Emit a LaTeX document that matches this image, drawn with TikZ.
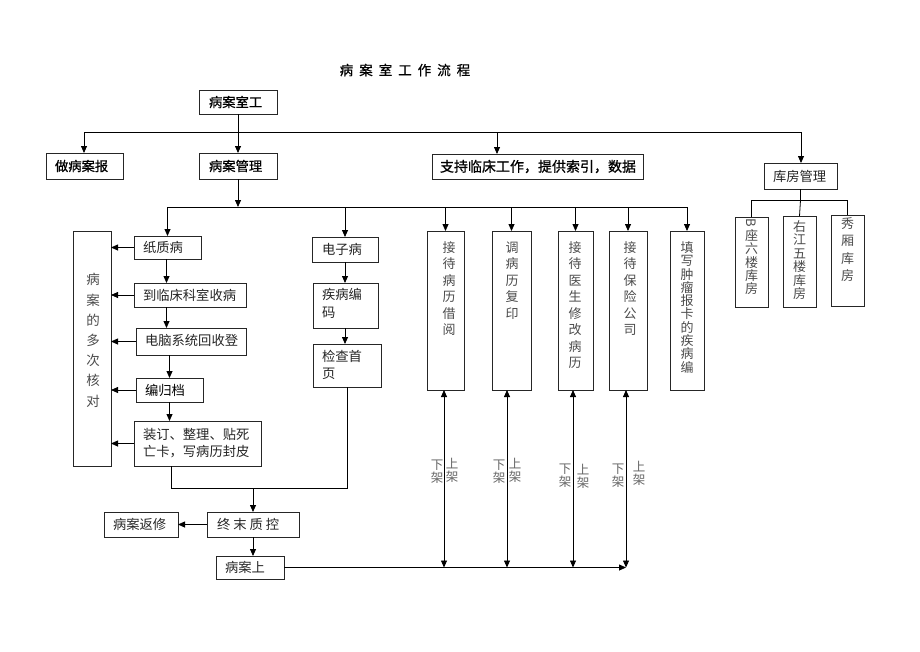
\documentclass[tikz,border=0pt]{standalone}
\usepackage{fontspec}
\setmainfont{Noto Sans CJK SC}
\newfontfamily\cjkh{Noto Sans CJK SC}[FakeBold=0.7]
\usepackage{graphicx}
\usetikzlibrary{arrows.meta}
\tikzset{
 bx/.style={draw=black!85, line width=0.9pt, inner sep=0pt, outer sep=0pt, rectangle},
 tx/.style={inner sep=0pt, outer sep=0pt, text=black!85, anchor=west, font=\fontsize{13.3}{17}\selectfont},
 tb/.style={tx, text=black, font=\cjkh\fontsize{13.3}{17}\selectfont},
 vt/.style={inner sep=0pt, outer sep=0pt, align=center, anchor=north, text=black!70, font=\fontsize{13}{16.5}\selectfont},
 ml/.style={inner sep=0pt, outer sep=0pt, align=left, anchor=north west, text=black!85},
 ln/.style={line width=0.8pt, draw=black},
 ar/.style={ln, -{Triangle[length=7pt,width=6pt]}},
 dar/.style={ln, {Triangle[length=7pt,width=6pt]}-{Triangle[length=7pt,width=6pt]}},
}
\newcommand\bx[5]{\node[bx, minimum width={#4pt-#2pt}, minimum height={#5pt-#3pt}] (#1) at ({(#2+#4)/2},{(#3+#5)/2}) {};}
\begin{document}
\begin{tikzpicture}[x=1pt,y=-1pt]
\path[use as bounding box] (0,0) rectangle (920,651);
\fill[white] (0,0) rectangle (920,651);

% title
\node[tb, anchor=center, font=\cjkh\fontsize{13.5}{15}\selectfont] (title) at (405,70)
  {病\hspace{6pt}案\hspace{6pt}室\hspace{6pt}工\hspace{6pt}作\hspace{6pt}流\hspace{6pt}程};

% top level
\bx{A}{199}{90}{277}{114}
\node[tb] (tA) at (209,102) {病案室工};
\bx{B1}{46}{153}{123}{179}
\node[tb] (tB1) at (55,166) {做病案报};
\bx{B2}{199}{153}{277}{179}
\node[tb] (tB2) at (209,166) {病案管理};
\bx{B3}{432}{154}{643}{179}
\node[tb, font=\cjkh\fontsize{14}{17}\selectfont] (tB3) at (440,166.5) {支持临床工作，提供索引，数据};
\bx{B4}{764}{163}{837}{189}
\node[tx] (tB4) at (773,176) {库房管理};

\coordinate (j1) at (84,132);
\coordinate (j3) at (497,132);
\coordinate (j4) at (801,132);
\draw[ln] (j1) -- (j4);
\draw[ar] (A.south) -- (B2.north);
\draw[ar] (j1) -- (j1 |- B1.north);
\draw[ar] (j3) -- (j3 |- B3.north);
\draw[ar] (j4) -- (j4 |- B4.north);

% storage
\bx{S1}{735}{217}{768}{307}
\bx{S2}{783}{216}{816}{307}
\bx{S3}{831}{215}{864}{306}
\node[vt, font=\fontsize{13}{13.2}\selectfont] (tS1) at (751.5,218.5) {\rotatebox[origin=c]{-90}{B}\\座\\六\\楼\\库\\房};
\node[vt, font=\fontsize{13}{13.4}\selectfont] (tS2) at (799.5,220.5) {右\\江\\五\\楼\\库\\房};
\node[vt, font=\fontsize{13}{17.5}\selectfont] (tS3) at (847.5,217.5) {秀\\厢\\库\\房};
\coordinate (s0) at (800.5,200);
\coordinate (sL) at (751.5,200);
\coordinate (sR) at (847.5,200);
\draw[ln] (B4.south) -- (s0);
\draw[ln] (sL) -- (sR);
\draw[ln] (sL) -- (S1.north);
\draw[ln] (s0) -- (S2.north);
\draw[ln] (sR) -- (S3.north);

% management line
\coordinate (mL) at (167.5,207);
\coordinate (mR) at (687,207);
\draw[ln] (mL) -- (mR);
\draw[ar] (B2.south) -- (B2.south |- mL);

% columns
\bx{C1}{427}{231}{464}{390}
\bx{C2}{492}{231}{531}{390}
\bx{C3}{558}{231}{593}{390}
\bx{C4}{609}{231}{647}{390}
\bx{C5}{670}{231}{704}{390}
\node[vt] (tC1) at (449,241.5) {接\\待\\病\\历\\借\\阅};
\node[vt] (tC2) at (512,241.5) {调\\病\\历\\复\\印};
\node[vt] (tC3) at (575,241.5) {接\\待\\医\\生\\修\\改\\病\\历};
\node[vt] (tC4) at (630,241.5) {接\\待\\保\\险\\公\\司};
\node[vt, font=\fontsize{13}{13.3}\selectfont] (tC5) at (687,241.5) {填\\写\\肿\\瘤\\报\\卡\\的\\疾\\病\\编};
\foreach \c in {C1,C2,C3,C4,C5} {\draw[ar] (\c.north |- mL) -- (\c.north);}

% paper records
\bx{K}{73}{231}{111}{466}
\node[vt, font=\fontsize{13.5}{20.2}\selectfont] (tK) at (93,273.5) {病\\案\\的\\多\\次\\核\\对};
\bx{P1}{134}{236}{201}{259}
\node[tx] (tP1) at (143,247.5) {纸质病};
\bx{P2}{134}{283}{246}{307}
\node[tx] (tP2) at (143,295) {到临床科室收病};
\bx{P3}{136}{328}{246}{355}
\node[tx] (tP3) at (145,340) {电脑系统回收登};
\bx{P4}{136}{378}{203}{402}
\node[tx, text=black] (tP4) at (145,390) {编归档};
\bx{P5}{134}{421}{261}{466}
\node[ml, font=\fontsize{13.3}{17}\selectfont] (tP5) at (143,428) {装订、整理、贴死\\亡卡，写病历封皮};
\draw[ar] (mL) -- (P1.north);
\coordinate (colx) at (166.5,0);
\draw[ar] (colx |- P1.south) -- (colx |- P2.north);
\draw[ar] (colx |- P2.south) -- (colx |- P3.north);
\draw[ar] (P4.north |- P3.south) -- (P4.north);
\draw[ar] (P4.south) -- (P4.south |- P5.north);
\foreach \p in {P1,P2,P3,P4,P5} {\draw[ar] (\p.west) -- (\p.west -| K.east);}

% electronic records
\bx{E1}{312}{237}{378}{262}
\node[tx] (tE1) at (322,249.5) {电子病};
\bx{E2}{313}{283}{378}{328}
\node[ml, font=\fontsize{13.3}{18}\selectfont] (tE2) at (322,288.5) {疾病编\\码};
\bx{E3}{313}{344}{381}{387}
\node[ml, font=\fontsize{13.3}{17}\selectfont] (tE3) at (322,350.5) {检查首\\页};
\draw[ar] (E1.north |- mL) -- (E1.north);
\draw[ar] (E1.south) -- (E1.south |- E2.north);
\draw[ar] (E1.south |- E2.south) -- (E1.south |- E3.north);

% merge and quality control
\coordinate (q1) at (171,488);
\coordinate (q2) at (347,488);
\draw[ln] (P5.south -| q1) -- (q1) -- (q2) -- (E3.south -| q2);
\bx{T}{207}{512}{299}{537}
\node[tx] (tT) at (217,524.5) {终\hspace{3pt}末\hspace{3pt}质\hspace{3pt}控};
\bx{R}{104}{512}{178}{537}
\node[tx] (tR) at (113,524.5) {病案返修};
\bx{U}{216}{556}{284}{579}
\node[tx] (tU) at (225,567.5) {病案上};
\draw[ar] (T.north |- q1) -- (T.north);
\draw[ar] (T.west) -- (R.east);
\draw[ar] (T.south) -- (T.south |- U.north);

% shelving
\coordinate (d1) at (444,567.5);
\coordinate (d2) at (507,567.5);
\coordinate (d3) at (573,567.5);
\coordinate (d4) at (626,567.5);
\draw[ar] (U.east) -- (d4);
\draw[dar] (C1.south -| d1) -- (d1);
\draw[dar] (C2.south -| d2) -- (d2);
\draw[dar] (C3.south -| d3) -- (d3);
\draw[dar] (C4.south -| d4) -- (d4);
\tikzset{lb/.style={vt, text=black!60, font=\fontsize{12.5}{13}\selectfont}}
\node[lb] (x1) at (437,460) {下\\架};
\node[lb] (y1) at (452,458) {上\\架};
\node[lb] (x2) at (499,460) {下\\架};
\node[lb] (y2) at (515,458) {上\\架};
\node[lb] (x3) at (565,464) {下\\架};
\node[lb] (y3) at (583,464) {上\\架};
\node[lb] (x4) at (618,464) {下\\架};
\node[lb] (y4) at (639,461) {上\\架};
\end{tikzpicture}
\end{document}
